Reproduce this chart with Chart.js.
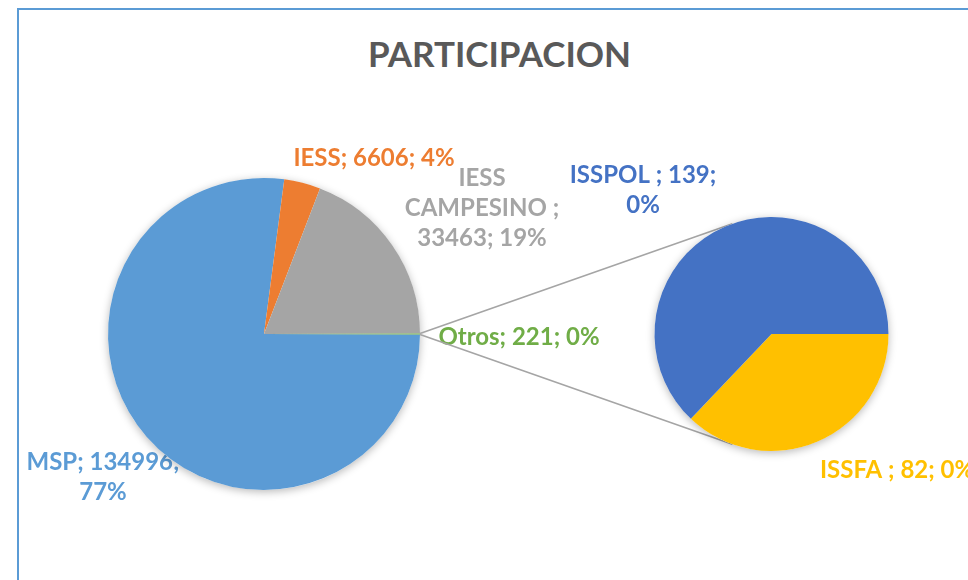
<!DOCTYPE html>
<html>
<head>
<meta charset="utf-8">
<script src="https://cdn.jsdelivr.net/npm/chart.js@4/dist/chart.umd.min.js"></script>
<style>
  html, body { margin: 0; padding: 0; background: #fff; }
  #contenedor { position: relative; width: 968px; height: 580px; overflow: hidden; }
  #marco {
    position: absolute; left: 17px; top: 8px; width: 1000px; height: 620px;
    border-left: 2px solid #5B9BD5; border-top: 2px solid #5B9BD5;
  }
  #titulo {
    position: absolute; left: 0; top: 36px; width: 999px; text-align: center;
    font: bold 35px Lato, sans-serif; line-height: 35px; color: #595959;
  }
  canvas { position: absolute; left: 0; top: 0; }
</style>
</head>
<body>
<div id="contenedor">
  <div id="marco"></div>
  <div id="titulo">PARTICIPACION</div>
  <canvas id="pie-principal" width="968" height="580"></canvas>
  <canvas id="pie-secundario" width="968" height="580"></canvas>
</div>

<script>
// datos
const etiquetasPrincipal = ["MSP", "IESS", "IESS CAMPESINO ", "Otros"];
const valoresPrincipal = [134996, 6606, 33463, 221];
const coloresPrincipal = ["#5B9BD5", "#ED7D31", "#A5A5A5", "#70AD47"];

const etiquetasSecundario = ["ISSFA ", "ISSPOL "];
const valoresSecundario = [82, 139];
const coloresSecundario = ["#FFC000", "#4472C4"];

const total = valoresPrincipal.reduce((a, b) => a + b, 0);

// ubicación de las etiquetas (centro del bloque de texto, ancho máximo de línea)
const posPrincipal = [
  { x: 103, y: 477, ancho: 180 },
  { x: 374, y: 158, ancho: 260 },
  { x: 482, y: 208, ancho: 180 },
  { x: 519, y: 337, ancho: 260 }
];
const posSecundario = [
  { x: 820, y: 470, ancho: 300, alinear: "left" },
  { x: 643, y: 190, ancho: 165 }
];

const fuenteEtiqueta = "bold 24px Lato, sans-serif";
const altoLinea = 30;

function textoEtiqueta(nombre, valor) {
  const pct = Math.round(valor / total * 100);
  return `${nombre}; ${valor}; ${pct}%`;
}

function partirLineas(ctx, texto, ancho) {
  const palabras = texto.split(/\s+/);
  const lineas = [];
  let actual = "";
  palabras.forEach(p => {
    const prueba = actual ? actual + " " + p : p;
    if (actual && ctx.measureText(prueba).width > ancho) {
      lineas.push(actual);
      actual = p;
    } else {
      actual = prueba;
    }
  });
  if (actual) lineas.push(actual);
  return lineas;
}

function crearEtiquetas(nombres, valores, colores, posiciones) {
  return {
    id: "etiquetas",
    beforeDatasetsDraw(chart) {
      const ctx = chart.ctx;
      ctx.save();
      ctx.font = fuenteEtiqueta;
      ctx.textBaseline = "middle";
      nombres.forEach((nombre, i) => {
        const pos = posiciones[i];
        const lineas = partirLineas(ctx, textoEtiqueta(nombre, valores[i]), pos.ancho);
        ctx.fillStyle = colores[i];
        ctx.textAlign = pos.alinear || "center";
        const y0 = pos.y - (lineas.length - 1) * altoLinea / 2;
        lineas.forEach((l, j) => ctx.fillText(l, pos.x, y0 + j * altoLinea));
      });
      ctx.restore();
    }
  };
}

// sombra suave bajo cada pastel
const sombra = {
  id: "sombra",
  beforeDatasetsDraw(chart) {
    const arco = chart.getDatasetMeta(0).data[0];
    if (!arco) return;
    const ctx = chart.ctx;
    ctx.save();
    ctx.shadowColor = "rgba(0,0,0,0.28)";
    ctx.shadowBlur = 9;
    ctx.shadowOffsetY = 2;
    ctx.fillStyle = "#fff";
    ctx.beginPath();
    ctx.arc(arco.x, arco.y, arco.outerRadius, 0, Math.PI * 2);
    ctx.fill();
    ctx.restore();
  }
};

const anguloOtros = valoresPrincipal[3] / total * 360;

const chartPrincipal = new Chart(document.getElementById("pie-principal"), {
  type: "pie",
  data: {
    labels: etiquetasPrincipal,
    datasets: [{
      data: valoresPrincipal,
      backgroundColor: coloresPrincipal,
      borderWidth: 0,
      hoverOffset: 0
    }]
  },
  options: {
    responsive: false,
    animation: false,
    events: [],
    rotation: 90 + anguloOtros / 2,
    layout: { padding: { left: 108, top: 178, right: 548, bottom: 90 } },
    plugins: { legend: { display: false }, tooltip: { enabled: false } }
  },
  plugins: [crearEtiquetas(etiquetasPrincipal, valoresPrincipal, coloresPrincipal, posPrincipal), sombra]
});

// líneas que unen "Otros" con el segundo pastel
const conectores = {
  id: "conectores",
  beforeDatasetsDraw(chart) {
    const otros = chartPrincipal.getDatasetMeta(0).data[3];
    const sec = chart.getDatasetMeta(0).data[0];
    if (!otros || !sec) return;
    const ctx = chart.ctx;
    const angSup = -109.5 * Math.PI / 180;
    const angInf = 109.5 * Math.PI / 180;
    ctx.save();
    ctx.strokeStyle = "#A5A5A5";
    ctx.lineWidth = 1.6;
    ctx.beginPath();
    ctx.moveTo(otros.x + otros.outerRadius * Math.cos(otros.startAngle), otros.y + otros.outerRadius * Math.sin(otros.startAngle));
    ctx.lineTo(sec.x + sec.outerRadius * Math.cos(angSup), sec.y + sec.outerRadius * Math.sin(angSup));
    ctx.moveTo(otros.x + otros.outerRadius * Math.cos(otros.endAngle), otros.y + otros.outerRadius * Math.sin(otros.endAngle));
    ctx.lineTo(sec.x + sec.outerRadius * Math.cos(angInf), sec.y + sec.outerRadius * Math.sin(angInf));
    ctx.stroke();
    ctx.restore();
  }
};

new Chart(document.getElementById("pie-secundario"), {
  type: "pie",
  data: {
    labels: etiquetasSecundario,
    datasets: [{
      data: valoresSecundario,
      backgroundColor: coloresSecundario,
      borderWidth: 0,
      hoverOffset: 0
    }]
  },
  options: {
    responsive: false,
    animation: false,
    events: [],
    rotation: 90,
    layout: { padding: { left: 654, top: 217, right: 79, bottom: 129 } },
    plugins: { legend: { display: false }, tooltip: { enabled: false } }
  },
  plugins: [conectores, crearEtiquetas(etiquetasSecundario, valoresSecundario, coloresSecundario, posSecundario), sombra]
});
</script>
</body>
</html>
